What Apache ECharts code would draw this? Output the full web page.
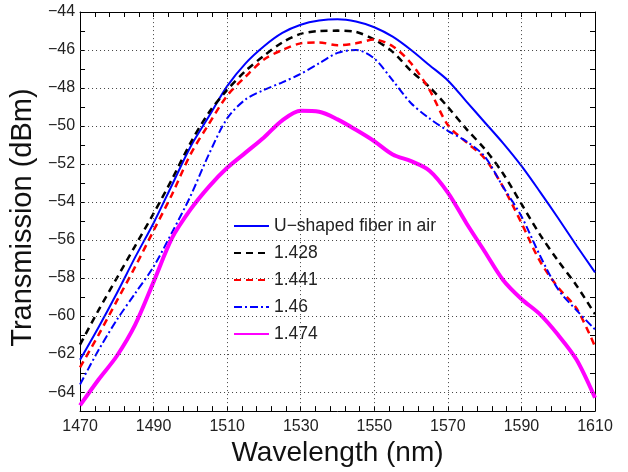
<!DOCTYPE html>
<html>
<head>
<meta charset="utf-8">
<script src="https://cdn.jsdelivr.net/npm/echarts@6/dist/echarts.min.js"></script>
<style>
html,body{margin:0;padding:0;background:#fff;}
#chart{width:628px;height:472px;}
</style>
</head>
<body>
<div id="chart"></div>
<script>
// Wavelength samples (nm)
const wavelengths = [1470,1475,1480,1485,1490,1495,1500,1505,1510,1515,1520,1525,1530,1535,1540,1545,1550,1555,1560,1565,1570,1575,1580,1585,1590,1595,1600,1605,1610];

// Transmission (dBm) per series
const airU   = [-62.3,-60.6,-58.8,-56.9,-55.1,-53.1,-51.1,-49.5,-47.9,-46.7,-45.8,-45.1,-44.67,-44.45,-44.38,-44.5,-44.8,-45.3,-46.0,-46.8,-47.6,-48.7,-49.8,-50.9,-52.1,-53.45,-54.85,-56.3,-57.7];
const n1428  = [-61.5,-59.7,-58.0,-56.3,-54.6,-52.8,-50.9,-49.3,-48.1,-47.1,-46.3,-45.6,-45.15,-45.0,-44.98,-45.05,-45.45,-46.1,-47.1,-47.95,-49.0,-50.15,-51.2,-52.5,-54.1,-55.7,-57.1,-58.4,-59.9];
const n1441  = [-62.7,-61.0,-59.2,-57.4,-55.5,-53.6,-51.5,-49.9,-48.4,-47.4,-46.5,-46.0,-45.65,-45.6,-45.75,-45.65,-45.45,-45.8,-46.7,-48.1,-49.95,-50.85,-51.7,-53.2,-55.1,-57.1,-58.5,-59.6,-61.6];
const n1460  = [-63.6,-61.8,-60.2,-58.8,-57.4,-55.6,-53.7,-51.5,-49.6,-48.6,-48.1,-47.7,-47.25,-46.7,-46.15,-46.0,-46.45,-47.6,-48.8,-49.6,-50.25,-50.8,-51.6,-53.2,-54.75,-56.8,-58.6,-59.7,-60.7];
const n1474  = [-64.7,-63.35,-62.1,-60.45,-58.2,-55.9,-54.4,-53.2,-52.2,-51.4,-50.6,-49.7,-49.2,-49.25,-49.65,-50.2,-50.8,-51.5,-51.85,-52.35,-53.5,-55.1,-56.6,-58.1,-59.1,-59.9,-61.0,-62.3,-64.3];

const seriesNames = ['U\u2212shaped fiber in air','1.428','1.441','1.46','1.474'];

// Tick / label values
const xLabelValues = [1470,1490,1510,1530,1550,1570,1590,1610];
const xMinorTicks = [1470,1474,1478,1482,1486,1490,1494,1498,1502,1506,1510,1514,1518,1522,1526,1530,1534,1538,1542,1546,1550,1554,1558,1562,1566,1570,1574,1578,1582,1586,1590,1594,1598,1602,1606,1610];
const yLabelValues = [-64,-62,-60,-58,-56,-54,-52,-50,-48,-46,-44];
const yMinorTicks = [-65,-64,-63,-62,-61,-60,-59,-58,-57,-56,-55,-54,-53,-52,-51,-50,-49,-48,-47,-46,-45,-44];

function pairs(ys){ return wavelengths.map((x,i)=>[x, ys[i]]); }

const FONT = "'Liberation Sans', Arial, sans-serif";
const XMIN=1470, XMAX=1610, YMIN=-65, YMAX=-44;
const dotStyle = {color:'#444', width:1, type:[1,3]};

const gridLines = []
  .concat(xLabelValues.filter(v=>v>XMIN && v<XMAX).map(v=>({xAxis:v})))
  .concat(yLabelValues.filter(v=>v>YMIN && v<YMAX).map(v=>({yAxis:v})));

const chart = echarts.init(document.getElementById('chart'), null, {renderer:'canvas'});
chart.setOption({
  animation:false,
  backgroundColor:'#fff',
  grid:{left:78, right:33, top:12, bottom:52, containLabel:false},
  legend:{
    orient:'vertical', left:227, top:209,
    backgroundColor:'#fff', borderWidth:0,
    padding:[8,9,6,6],
    itemWidth:35, itemHeight:14, itemGap:9,
    itemStyle:{opacity:0},
    textStyle:{fontFamily:FONT, fontSize:17.5, lineHeight:14, color:'#222'},
    data:seriesNames
  },
  xAxis:[
    {type:'value', min:XMIN, max:XMAX, position:'bottom',
     name:'Wavelength (nm)', nameLocation:'middle', nameGap:24,
     nameTextStyle:{fontFamily:FONT, fontSize:28, color:'#111'},
     axisLine:{show:true, onZero:false, lineStyle:{color:'#000', width:1}},
     axisTick:{show:true, inside:true, length:5, customValues:xMinorTicks, lineStyle:{color:'#000'}},
     axisLabel:{customValues:xLabelValues, fontFamily:FONT, fontSize:16, color:'#222', margin:7,
       formatter:v=>String(v)},
     splitLine:{show:false}},
    {type:'value', min:XMIN, max:XMAX, position:'top',
     axisLine:{show:true, onZero:false, lineStyle:{color:'#000', width:1}},
     axisTick:{show:true, inside:true, length:5, customValues:xMinorTicks, lineStyle:{color:'#000'}},
     axisLabel:{show:false}, splitLine:{show:false}}
  ],
  yAxis:[
    {type:'value', min:YMIN, max:YMAX, position:'left',
     name:'Transmission (dBm)', nameLocation:'middle', nameGap:38, nameRotate:90,
     nameTextStyle:{fontFamily:FONT, fontSize:29, color:'#111', padding:[0,12,0,0]},
     axisLine:{show:true, onZero:false, lineStyle:{color:'#000', width:1}},
     axisTick:{show:true, inside:true, length:5, customValues:yMinorTicks, lineStyle:{color:'#000'}},
     axisLabel:{customValues:yLabelValues, fontFamily:FONT, fontSize:16, color:'#222', margin:5,
       formatter:v=>String(v).replace('-','\u2212')},
     splitLine:{show:false}},
    {type:'value', min:YMIN, max:YMAX, position:'right',
     axisLine:{show:true, onZero:false, lineStyle:{color:'#000', width:1}},
     axisTick:{show:true, inside:true, length:5, customValues:yMinorTicks, lineStyle:{color:'#000'}},
     axisLabel:{show:false}, splitLine:{show:false}}
  ],
  series:[
    {name:'__grid', type:'line', data:[], z:0, silent:true, showSymbol:false,
     markLine:{silent:true, symbol:['none','none'], animation:false, label:{show:false},
       lineStyle:dotStyle, emphasis:{disabled:true}, data:gridLines}},
    {name:seriesNames[0], type:'line', data:pairs(airU), showSymbol:false, symbol:'none', smooth:0.3,
     lineStyle:{color:'#0000ff', width:2}, itemStyle:{color:'#0000ff'}},
    {name:seriesNames[1], type:'line', data:pairs(n1428), showSymbol:false, symbol:'none', smooth:0.3,
     lineStyle:{color:'#000000', width:2.5, type:[7,5]}, itemStyle:{color:'#000000'}},
    {name:seriesNames[2], type:'line', data:pairs(n1441), showSymbol:false, symbol:'none', smooth:0.3,
     lineStyle:{color:'#ff0000', width:2.5, type:[7,5]}, itemStyle:{color:'#ff0000'}},
    {name:seriesNames[3], type:'line', data:pairs(n1460), showSymbol:false, symbol:'none', smooth:0.3,
     lineStyle:{color:'#0000ff', width:2, type:[8,3,2,3]}, itemStyle:{color:'#0000ff'}},
    {name:seriesNames[4], type:'line', data:pairs(n1474), showSymbol:false, symbol:'none', smooth:0.3,
     lineStyle:{color:'#ff00ff', width:4}, itemStyle:{color:'#ff00ff'}}
  ]
});
</script>
</body>
</html>
